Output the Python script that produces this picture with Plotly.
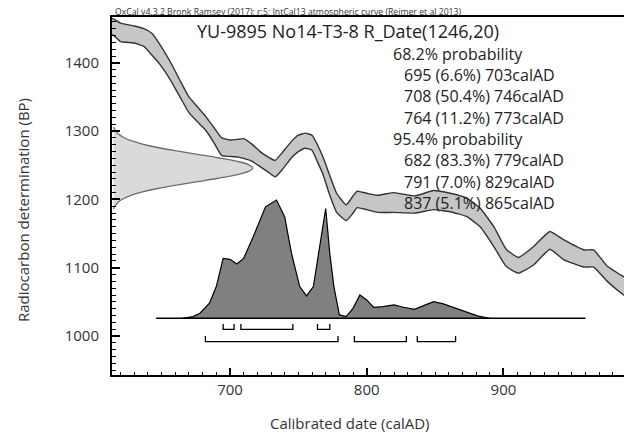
import plotly.graph_objects as go

# IntCal13 atmospheric curve band: calAD, upper BP, lower BP
curve_ad = [610, 615, 620, 630, 637, 643, 649, 657, 664, 670, 676, 682, 688, 694, 700, 706, 710,
            716, 722, 728, 733, 738, 745, 750, 755, 760, 764, 768, 773, 778, 785, 790, 793, 800,
            808, 820, 835, 849, 861, 873, 883, 893, 902, 911, 922, 934, 944, 959, 966, 976, 986, 992]
curve_hi = [1467, 1464, 1458, 1454, 1450, 1443, 1426, 1399, 1372, 1350, 1336, 1322, 1306, 1290, 1287, 1288, 1289,
            1281, 1270, 1262, 1257, 1268, 1285, 1294, 1297, 1294, 1280, 1262, 1235, 1209, 1192, 1205, 1212, 1209,
            1206, 1210, 1205, 1213, 1209, 1202, 1187, 1160, 1127, 1115, 1131, 1153, 1141, 1126, 1126, 1102, 1089, 1082]
curve_lo = [1442, 1440, 1431, 1429, 1424, 1411, 1397, 1373, 1348, 1327, 1314, 1302, 1284, 1264, 1263, 1262, 1260,
            1256, 1248, 1240, 1233, 1243, 1261, 1270, 1275, 1272, 1255, 1237, 1206, 1181, 1169, 1180, 1188, 1185,
            1181, 1181, 1180, 1185, 1182, 1175, 1160, 1131, 1102, 1092, 1104, 1127, 1112, 1101, 1101, 1080, 1063, 1055]

# R_Date(1246,20) drawn on the radiocarbon axis (width in calendar years)
date_bp = [1186, 1191, 1196, 1201, 1206, 1211, 1216, 1221, 1226, 1231, 1236, 1241, 1246,
           1251, 1256, 1261, 1266, 1271, 1276, 1281, 1286, 1291, 1296, 1301, 1306]
date_width = [1.1, 2.4, 4.5, 8.2, 13.9, 22.3, 33.4, 47.2, 62.5, 77.7, 90.9, 99.8, 103,
              99.8, 90.9, 77.7, 62.5, 47.2, 33.4, 22.3, 13.9, 8.2, 4.5, 2.4, 1.1]

# calibrated date probability (relative)
cal_ad = [665, 673, 678, 685, 690, 695, 700, 705, 710, 717, 726, 734, 740, 745, 751, 756, 761, 767,
          770, 773, 776, 780, 785, 790, 795, 800, 805, 812, 820, 827, 835, 843, 849, 856, 866, 873, 881, 890]
cal_prob = [0, 0.014, 0.042, 0.127, 0.268, 0.507, 0.499, 0.459, 0.507, 0.69, 0.943, 1.0, 0.859, 0.549,
            0.268, 0.189, 0.268, 0.69, 0.929, 0.549, 0.268, 0.028, 0.014, 0.084, 0.197, 0.155, 0.093,
            0.099, 0.113, 0.093, 0.076, 0.113, 0.141, 0.121, 0.082, 0.057, 0.02, 0]

range68_from = [695, 708, 764]
range68_to = [703, 746, 773]
range95_from = [682, 791, 837]
range95_to = [779, 829, 865]

title_text = "YU-9895 No14-T3-8 R_Date(1246,20)"
credit_text = "OxCal v4.3.2 Bronk Ramsey (2017); r:5; IntCal13 atmospheric curve (Reimer et al 2013)"
prob_lines = ["68.2% probability", "695 (6.6%) 703calAD", "708 (50.4%) 746calAD", "764 (11.2%) 773calAD",
              "95.4% probability", "682 (83.3%) 779calAD", "791 (7.0%) 829calAD", "837 (5.1%) 865calAD"]

# plot frame in pixels
W, H = 624, 433
L, R, T, B = 112, 624, 17, 375
x_range = [613.7, 988.2]
y_range = [942.9, 1467.1]
font = "Open Sans"


def px(x):
    return (x - L) / (R - L)


def py(y):
    return (B - y) / (B - T)


fig = go.Figure()

# calibration curve band
fig.add_trace(go.Scatter(
    x=curve_ad + curve_ad[::-1], y=curve_hi + curve_lo[::-1],
    fill='toself', fillcolor='#c6c6c6', mode='lines',
    line=dict(color='#333333', width=1.4, shape='spline', smoothing=0.4)))

# radiocarbon date on y axis
fig.add_trace(go.Scatter(
    x=[x_range[0] + w for w in date_width], y=date_bp,
    fill='toself', fillcolor='#dadada', mode='lines',
    line=dict(color='#6e6e6e', width=1.3, shape='spline')))

# calibrated distribution
base = 1026
height = 173
fig.add_trace(go.Scatter(
    x=cal_ad, y=[base + p * height for p in cal_prob],
    fill='toself', fillcolor='#808080', mode='lines',
    line=dict(color='black', width=1.2)))
fig.add_trace(go.Scatter(x=[646, 960], y=[base, base], mode='lines',
                         line=dict(color='black', width=1.5)))

# range brackets
def brackets(starts, ends, yline, ytop):
    xs, ys = [], []
    for a, b in zip(starts, ends):
        xs += [a, a, b, b, None]
        ys += [ytop, yline, yline, ytop, None]
    return xs, ys

bx, by = brackets(range68_from, range68_to, 1009.8, 1017.6)
fig.add_trace(go.Scatter(x=bx, y=by, mode='lines', line=dict(color='black', width=1.3)))
bx, by = brackets(range95_from, range95_to, 991.7, 1000)
fig.add_trace(go.Scatter(x=bx, y=by, mode='lines', line=dict(color='black', width=1.3)))

ann = []
ann.append(dict(text=credit_text, x=px(113), y=py(11.5), xanchor='left', yanchor='middle',
                font=dict(size=8.7, color='#333')))
ann.append(dict(text=title_text, x=px(195), y=py(31), xanchor='left', yanchor='middle',
                font=dict(size=18, color='#222')))
line_y = [54, 75, 96, 117.7, 139, 160, 181.7, 203]
for txt, yy in zip(prob_lines, line_y):
    xx = 391 if 'probability' in txt else 402
    ann.append(dict(text=txt, x=px(xx), y=py(yy), xanchor='left', yanchor='middle',
                    font=dict(size=16, color='#222')))
ann.append(dict(text="Radiocarbon determination (BP)", x=px(23), y=py(210), textangle=-90,
                xanchor='center', yanchor='middle', font=dict(size=15, color='#333')))
ann.append(dict(text="Calibrated date (calAD)", x=px(350), y=py(423), xanchor='center',
                yanchor='middle', font=dict(size=15, color='#333')))
for a in ann:
    a.update(xref='paper', yref='paper', showarrow=False)

fig.update_layout(
    width=W, height=H, margin=dict(l=L, r=W - R, t=T, b=H - B),
    plot_bgcolor='white', paper_bgcolor='white', showlegend=False,
    font=dict(family=font, color='#333'),
    annotations=ann,
    xaxis=dict(range=x_range, showgrid=False, zeroline=False, showline=True, linecolor='black',
               linewidth=2, mirror=True, ticks='inside', ticklen=7, tickwidth=1.5, tickcolor='black',
               tick0=0, dtick=100, tickfont=dict(size=15, color='#333'),
               minor=dict(dtick=10, ticks='inside', ticklen=3.5, tickwidth=1, tickcolor='black')),
    yaxis=dict(range=y_range, showgrid=False, zeroline=False, showline=True, linecolor='black',
               linewidth=2, ticks='inside', ticklen=8, tickwidth=1.5, tickcolor='black',
               tick0=0, dtick=100, tickfont=dict(size=15, color='#333'), ticklabelstandoff=8,
               minor=dict(dtick=10, ticks='inside', ticklen=4, tickwidth=1, tickcolor='black')),
)

# page has a default 8px body margin; remove it so the figure sits at the corner
fig.write_html("out.html", config={'displayModeBar': False},
               post_script="document.body.style.margin='0';")
